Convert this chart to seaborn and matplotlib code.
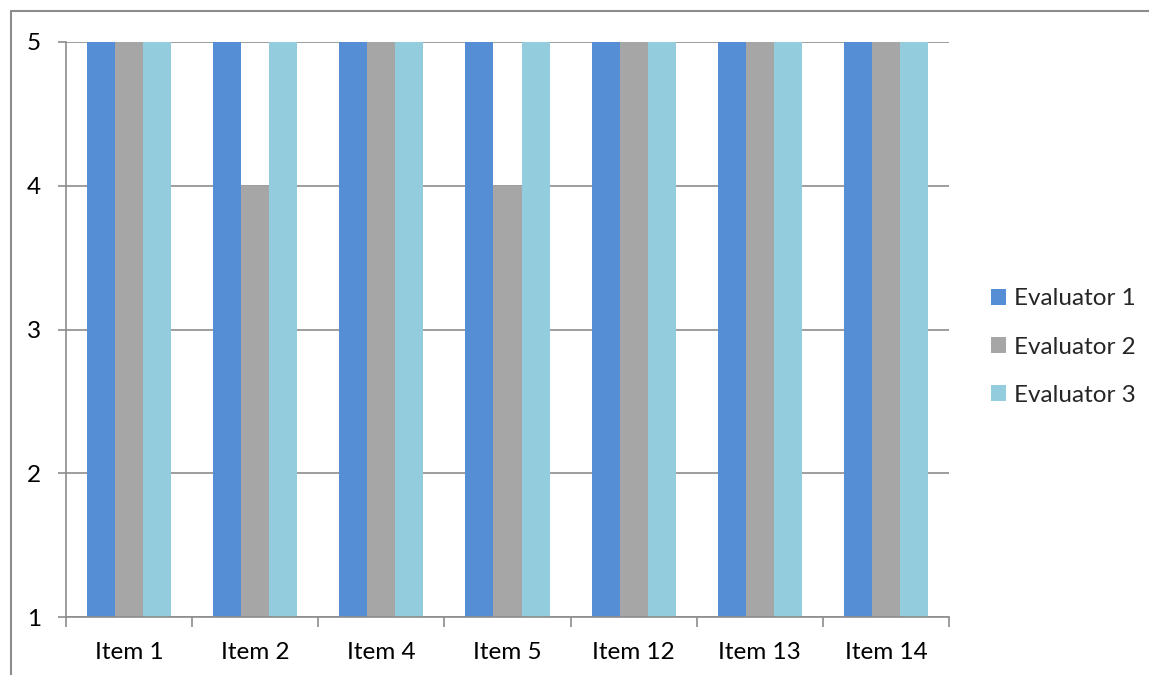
import matplotlib
matplotlib.use("Agg")
import matplotlib.pyplot as plt
from matplotlib.patches import Patch
from matplotlib.lines import Line2D
import seaborn as sns
import pandas as pd

items = ["Item 1", "Item 2", "Item 4", "Item 5", "Item 12", "Item 13", "Item 14"]
evaluators = ["Evaluator 1", "Evaluator 2", "Evaluator 3"]
evaluator_1 = [5, 5, 5, 5, 5, 5, 5]
evaluator_2 = [5, 4, 5, 4, 5, 5, 5]
evaluator_3 = [5, 5, 5, 5, 5, 5, 5]
y_ticks = [1, 2, 3, 4, 5]
colors = ["#558ED5", "#A6A6A6", "#93CDDD"]

rows = []
for name, vals in zip(evaluators, [evaluator_1, evaluator_2, evaluator_3]):
    for item, v in zip(items, vals):
        rows.append({"Item": item, "Evaluator": name, "Score": v})
df = pd.DataFrame(rows)

sns.set_theme(style="white")
plt.rcParams["font.family"] = ["Lato", "DejaVu Sans"]

FS = 17.5

fig = plt.figure(figsize=(11.49, 6.75), dpi=100)
ax = fig.add_axes([66 / 1149, 1 - 617 / 675, (949 - 66) / 1149, (617 - 42) / 675])

sns.barplot(data=df, x="Item", y="Score", hue="Evaluator", order=items,
            hue_order=evaluators, palette=colors, width=0.667, gap=0,
            saturation=1, ax=ax, legend=False, linewidth=0)

ax.set_ylim(1, 5)
ax.set_xlim(-0.5, len(items) - 0.5)
ax.set_yticks(y_ticks)
ax.set_yticklabels([str(t) for t in y_ticks])
ax.yaxis.grid(True, color="#8C8C8C", linewidth=1.2)
ax.set_axisbelow(True)
ax.set_xlabel("")
ax.set_ylabel("")

for s in ["top", "right"]:
    ax.spines[s].set_visible(False)
for s in ["left", "bottom"]:
    ax.spines[s].set_color("#8C8C8C")
    ax.spines[s].set_linewidth(1.2)

# category boundary ticks on the x axis
ax.set_xticks([i for i in range(len(items))])
ax.set_xticklabels(items, fontsize=FS, color="#000000")
ax.tick_params(axis="x", length=0, pad=18)
ax.set_xticks([i - 0.5 for i in range(len(items) + 1)], minor=True)
ax.tick_params(axis="x", which="minor", length=7, width=1.2, color="#8C8C8C",
               direction="out", bottom=True)
ax.tick_params(axis="y", length=6, width=1.2, color="#8C8C8C", left=True,
               labelsize=FS, pad=12, labelcolor="#000000")

handles = [Patch(facecolor=c, edgecolor="none") for c in colors]
fig.legend(handles, evaluators, loc="center left",
           bbox_to_anchor=(991 / 1149, 1 - 347 / 675), frameon=False,
           fontsize=FS, handlelength=0.62, handleheight=0.62, borderpad=0,
           borderaxespad=0, handletextpad=0.33, labelspacing=1.12)

# outer chart border
fig.add_artist(Line2D([11 / 1149, 11 / 1149], [0, 1 - 11 / 675],
                      transform=fig.transFigure, color="#8C8C8C", linewidth=1.5))
fig.add_artist(Line2D([11 / 1149, 1], [1 - 11 / 675, 1 - 11 / 675],
                      transform=fig.transFigure, color="#8C8C8C", linewidth=1.5))

fig.savefig("out.png", dpi=100, facecolor="white")
